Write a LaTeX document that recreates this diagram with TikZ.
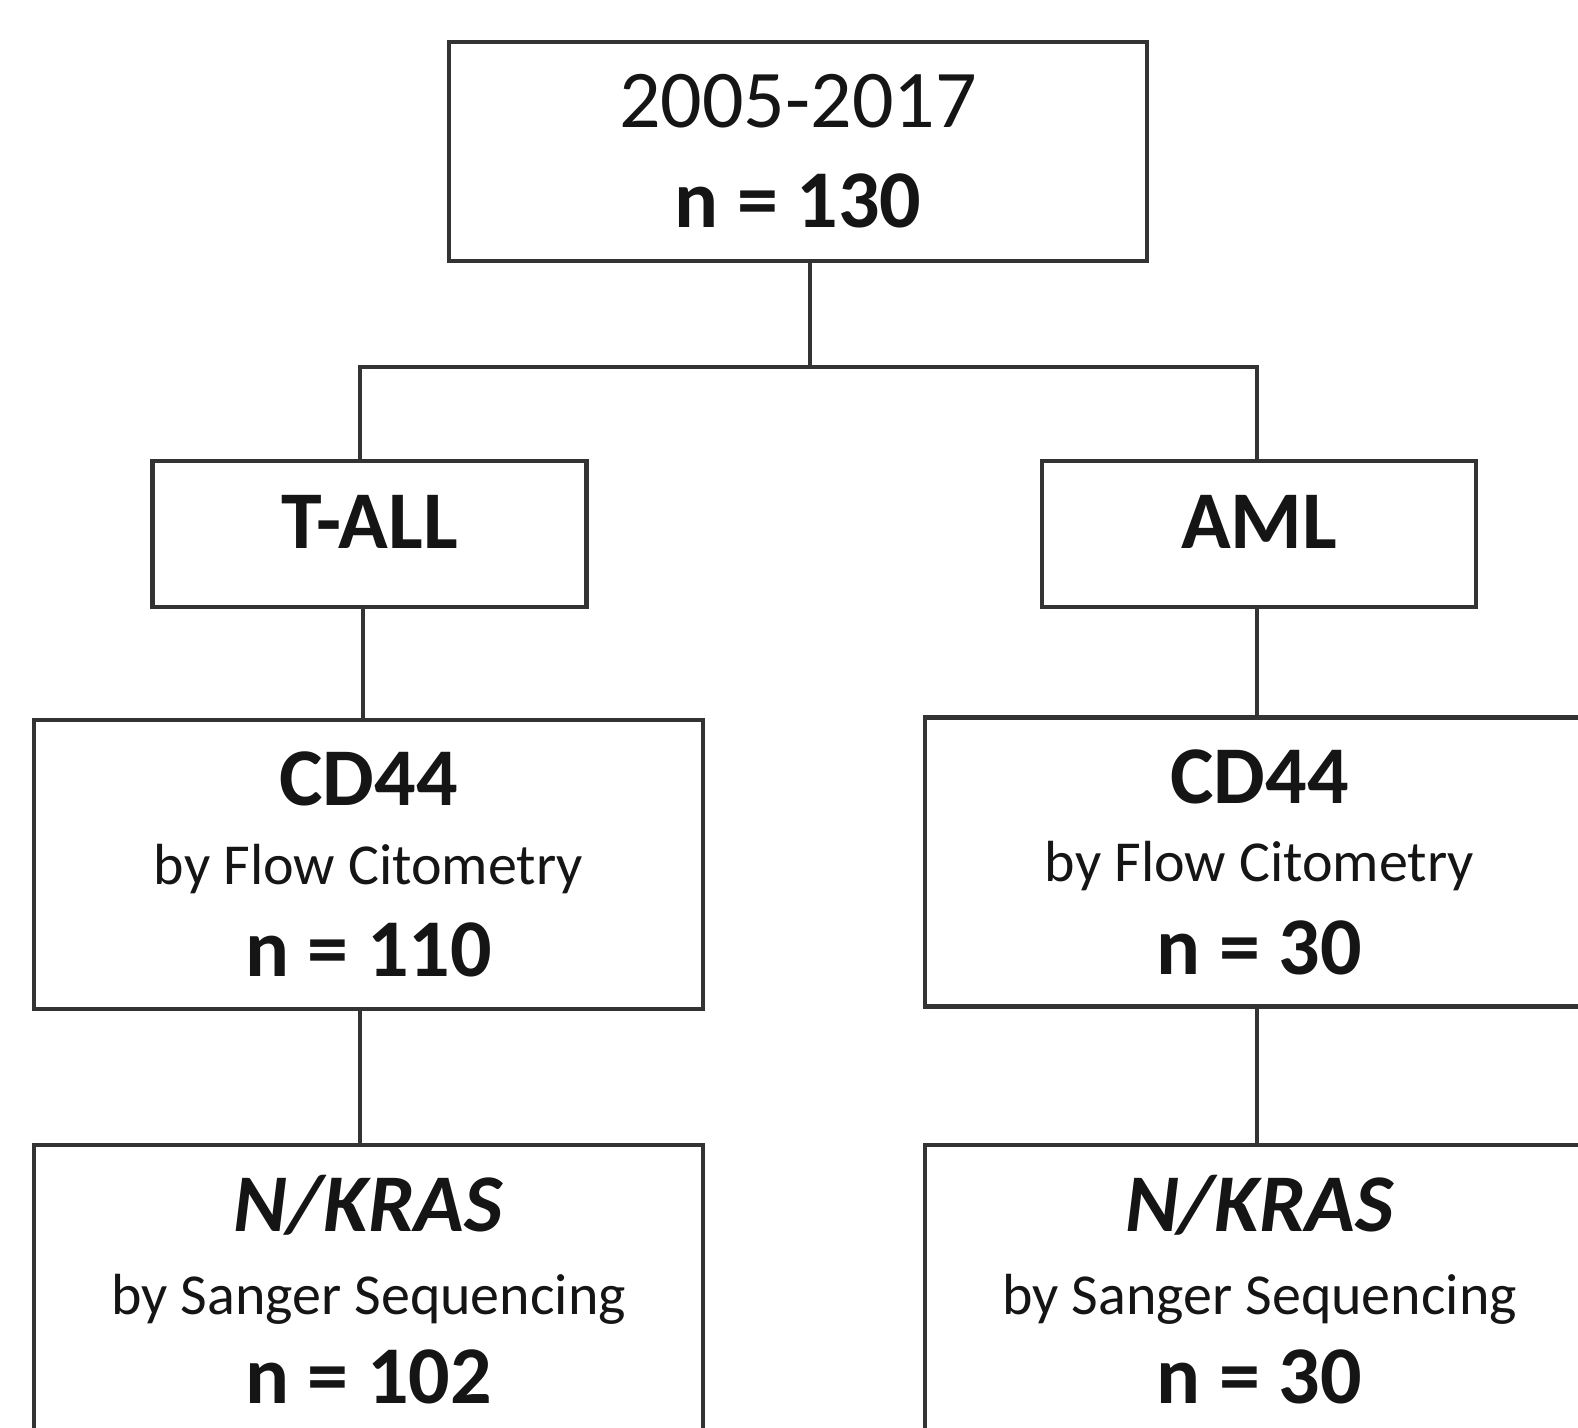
\documentclass[tikz,border=0pt]{standalone}
\usepackage{fontspec}
\setmainfont{Carlito}
\usetikzlibrary{positioning}

\definecolor{linegray}{HTML}{333333}
\definecolor{txtgray}{HTML}{151515}

\tikzset{
  box/.style={draw=linegray, line width=2.1pt, inner sep=0pt, align=center,
    text=txtgray, font=\fontsize{41}{41}\selectfont},
  smallbox/.style={box, minimum width=217pt, minimum height=73pt,
    text height=26pt, text depth=12pt},
  bigbox/.style={box, minimum width=334.5pt, minimum height=144.5pt},
  link/.style={draw=linegray, line width=2.1pt},
}
\newcommand{\subline}[1]{{\fontsize{29}{41}\selectfont #1}}

\begin{document}
\begin{tikzpicture}[x=0.5pt, y=-0.5pt]
  \useasboundingbox (0,0) rectangle (1578,1428);
  \clip (0,0) rectangle (1578,1428);

  % all cases
  \node[box, minimum width=349pt, minimum height=109.5pt] (total) at (798,151.5)
    {2005-2017\\[9pt]\textbf{n = 130}};

  % leukaemia type
  \node[smallbox] (tall) at (369.5,534) {\textbf{T-ALL}};
  \node[smallbox] (aml) at (1259,534) {\textbf{AML}};

  % CD44
  \node[bigbox] (cdl) at (368.5,864.5)
    {\textbf{CD44}\\[-1.75pt]\subline{by Flow Citometry}\\[5.3pt]\textbf{n = 110}};
  \node[bigbox] (cdr) at (1259.5,862)
    {\textbf{CD44}\\[-1.75pt]\subline{by Flow Citometry}\\[5.3pt]\textbf{n = 30}};

  % N/KRAS
  \node[bigbox] (nkl) at (368.5,1289.5)
    {\textbf{\textit{N/KRAS}}\\[0.5pt]\subline{by Sanger Sequencing}\\[3.5pt]\textbf{n = 102}};
  \node[bigbox] (nkr) at (1259.5,1289.5)
    {\textbf{\textit{N/KRAS}}\\[0.5pt]\subline{by Sanger Sequencing}\\[3.5pt]\textbf{n = 30}};

  % connectors
  \coordinate (split) at (810,367);
  \coordinate (jl) at (360,367);
  \coordinate (jr) at (1257,367);
  \coordinate (tl) at (363,0);
  \draw[link] (total.south -| split) -- (split);
  \draw[link] (tall.north -| jl) -- (jl) -- (jr) -- (aml.north -| jr);
  \draw[link] (tall.south -| tl) -- (cdl.north -| tl);
  \draw[link] (aml.south -| jr) -- (cdr.north -| jr);
  \draw[link] (cdl.south -| jl) -- (nkl.north -| jl);
  \draw[link] (cdr.south -| jr) -- (nkr.north -| jr);
\end{tikzpicture}
\end{document}
